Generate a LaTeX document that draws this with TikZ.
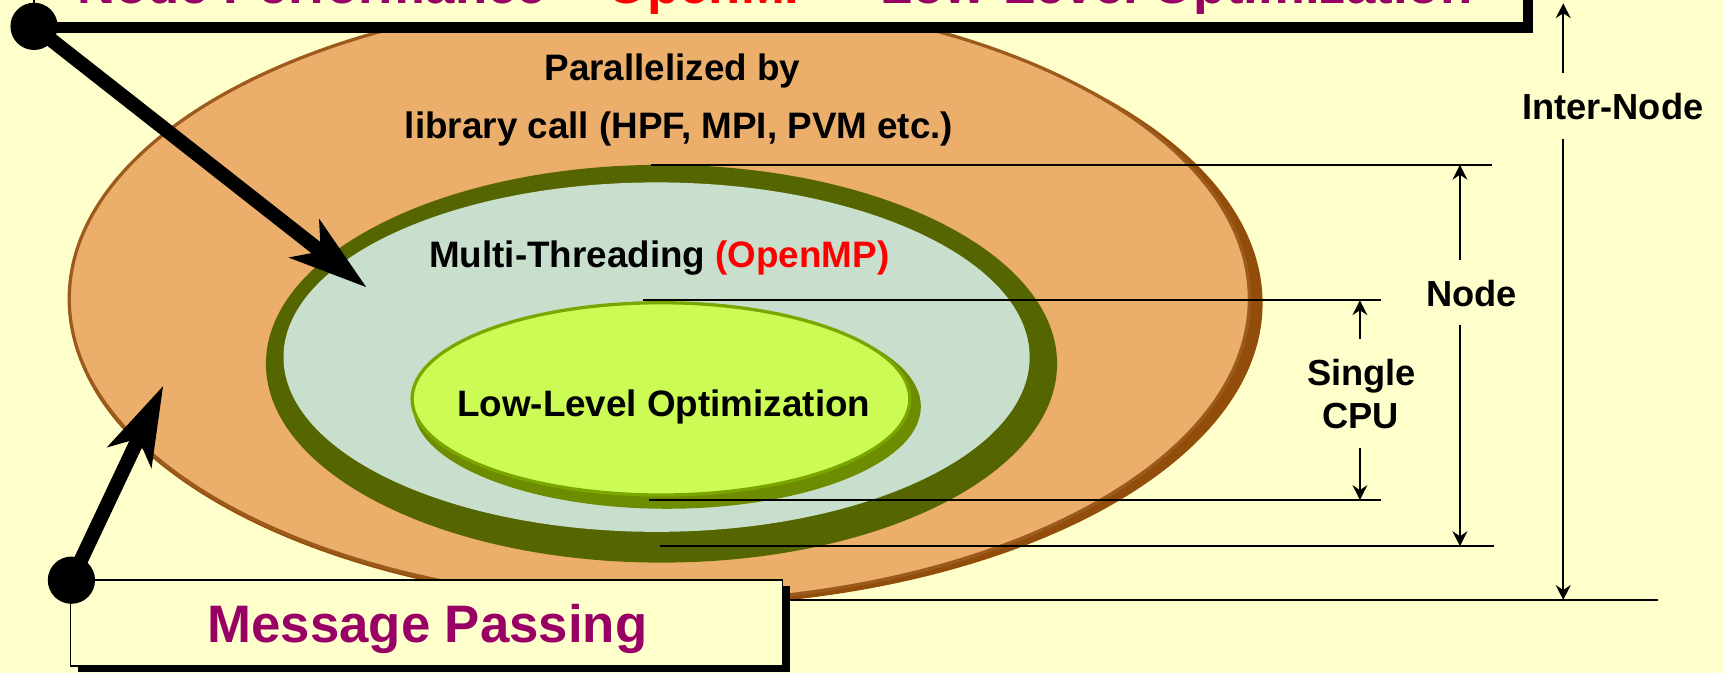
\documentclass[tikz,border=0pt]{standalone}
\usepackage{fontspec}
\setmainfont{Liberation Sans}
\usetikzlibrary{arrows.meta}
\definecolor{bgY}{HTML}{FFFFCC}
\definecolor{orangeF}{HTML}{EBAF6B}
\definecolor{orangeB}{HTML}{9C5B1C}
\definecolor{orangeS}{HTML}{934D0B}
\definecolor{oliveR}{HTML}{556600}
\definecolor{paleG}{HTML}{C9DFCD}
\definecolor{limeF}{HTML}{CDFB55}
\definecolor{limeB}{HTML}{7BA600}
\definecolor{limeS}{HTML}{6E8C00}
\definecolor{purp}{HTML}{990066}
\tikzset{
  lbl/.style={font=\bfseries\fontsize{33.5pt}{40pt}\selectfont, inner sep=0pt, anchor=base},
  dimlbl/.style={font=\bfseries\fontsize{33pt}{39pt}\selectfont, inner sep=0pt, anchor=base},
  bigtxt/.style={font=\bfseries\fontsize{48pt}{56pt}\selectfont, text=purp, inner sep=0pt, anchor=base},
  dimline/.style={line width=1.8pt},
  dimarrow/.style={line width=1.8pt, -{Stealth[length=13.5pt,width=13.5pt,inset=4.5pt]}},
  bigarrow/.style={line width=13pt, -{Stealth[length=71pt,width=43pt,inset=18pt]}},
  dot/.style={circle, fill=black, minimum size=43pt, inner sep=0pt},
  tshadow/.style={fill=black},
  tbox/.style={fill=bgY, draw=black, line width=1.5pt},
}
\begin{document}
\begin{tikzpicture}[x=1pt,y=-1pt]
\useasboundingbox (0,0) rectangle (1568,612);
\clip (0,0) rectangle (1568,612);
\fill[bgY] (0,0) rectangle (1568,612);

% ellipses
\fill[orangeS] (606,276) ellipse [x radius=543pt, y radius=276pt];
\filldraw[fill=orangeF, draw=orangeB, line width=3pt] (600,272) ellipse [x radius=537pt, y radius=276pt];
\fill[oliveR] (602,331) ellipse [x radius=360pt, y radius=181pt];
\fill[paleG] (597.5,325) ellipse [x radius=339.5pt, y radius=159pt];
\fill[limeS] (607,370) ellipse [x radius=231pt, y radius=93pt];
\filldraw[fill=limeF, draw=limeB, line width=3pt] (601.5,363) ellipse [x radius=226.5pt, y radius=87.5pt];

% texts inside
\node[lbl] (par1) at (612,73) {Parallelized by};
\node[lbl] (par2) at (618,126) {library call (HPF, MPI, PVM etc.)};
\node[lbl] (mt) at (600,243) {Multi-Threading \textcolor{red}{(OpenMP)}};
\node[lbl] (llo) at (604,379) {Low-Level Optimization};

% horizontal reference lines
\coordinate (h1a) at (592,150);   \coordinate (h1b) at (1358,150);
\coordinate (h2a) at (585,273.3); \coordinate (h2b) at (1257,273.3);
\coordinate (h3a) at (591,455);   \coordinate (h3b) at (1257,455);
\coordinate (h4a) at (601,497);   \coordinate (h4b) at (1360,497);
\coordinate (h5a) at (700,546);   \coordinate (h5b) at (1509,546);
\draw[dimline] (h1a) -- (h1b);
\draw[dimline] (h2a) -- (h2b);
\draw[dimline] (h3a) -- (h3b);
\draw[dimline] (h4a) -- (h4b);
\draw[dimline] (h5a) -- (h5b);

% dimension labels
\node[dimlbl] (inter) at (1467.7,108.6) {Inter-Node};
\node[dimlbl] (nodeL) at (1339,278.5) {Node};
\node[dimlbl] (single) at (1239,351) {Single};
\node[dimlbl] (cpu) at (1238,390.4) {CPU};

% dimension arrows
\coordinate (inT) at (1422.6,3);     \coordinate (inU) at (1422.6,66.6);
\coordinate (inL) at (1422.6,126.6); \coordinate (inB) at (1422.6,546);
\coordinate (ndT) at (1328.6,150);   \coordinate (ndU) at (1328.6,236.6);
\coordinate (ndL) at (1328.6,295.8); \coordinate (ndB) at (1328.6,497);
\coordinate (scT) at (1237.6,273.3); \coordinate (scU) at (1237.6,308.5);
\coordinate (scL) at (1237.6,408);   \coordinate (scB) at (1237.6,455);
\draw[dimarrow] (inU) -- (inT);
\draw[dimarrow] (inL) -- (inB);
\draw[dimarrow] (ndU) -- (ndT);
\draw[dimarrow] (ndL) -- (ndB);
\draw[dimarrow] (scU) -- (scT);
\draw[dimarrow] (scL) -- (scB);

% title box (cut at top)
\fill[tshadow] (39,-60) rectangle (1395,30);
\filldraw[tbox] (31,-60) rectangle (1387,21);
\node[bigtxt, anchor=base west] (title) at (70,3) {Node Performance = \textcolor{red}{OpenMP} + Low-Level Optimization};

% message passing box
\fill[tshadow] (71,533.5) rectangle (719,611.5);
\filldraw[tbox] (64,528) rectangle (712,606);
\node[bigtxt] (mp) at (389,585) {Message Passing};

% big arrows
\coordinate (pA) at (31,24);   \coordinate (tA) at (333.7,261.6);
\coordinate (pB) at (65,528);  \coordinate (tB) at (148.6,351);
\draw[bigarrow] (pA) -- (tA);
\draw[bigarrow] (pB) -- (tB);
\node[dot] (dA) at (pA) {};
\node[dot] (dB) at (pB) {};
\end{tikzpicture}
\end{document}
